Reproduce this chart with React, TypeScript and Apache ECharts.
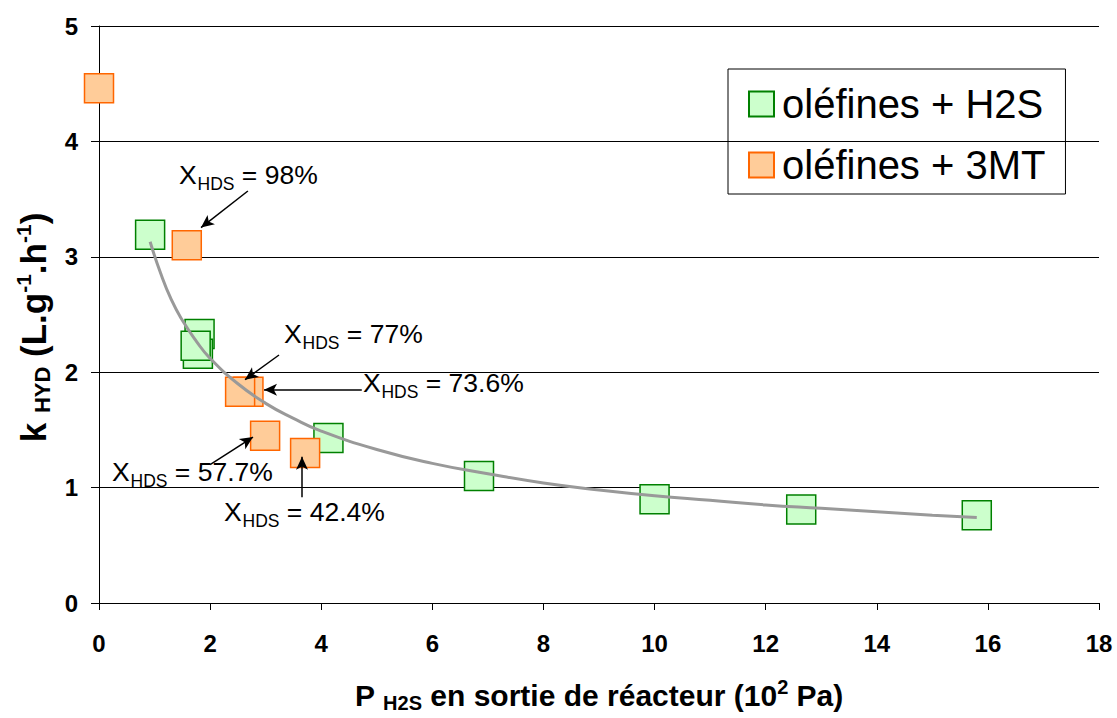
import React, { useEffect, useRef } from "react";
import * as echarts from "echarts";

// ---- data ----
const greenX = [0.92, 1.81, 1.78, 1.74, 4.13, 6.84, 10.0, 12.64, 15.8];
const greenY = [3.19, 2.33, 2.16, 2.23, 1.43, 1.10, 0.90, 0.81, 0.76];

const orangeX = [0.0, 1.58, 2.69, 2.54, 2.99, 3.71];
const orangeY = [4.46, 3.10, 1.83, 1.83, 1.45, 1.30];

const trendX = [0.92, 1.1, 1.3, 1.5, 1.75, 2, 2.5, 3, 3.5, 4, 5, 6, 7, 8, 9, 10, 11, 12, 13, 14, 15, 15.8];
const trendY = [3.13, 2.87, 2.63, 2.45, 2.27, 2.12, 1.9, 1.73, 1.6, 1.49, 1.33, 1.21, 1.12, 1.04, 0.98, 0.93, 0.89, 0.85, 0.82, 0.79, 0.76, 0.74];

const seriesNames = ["oléfines + H2S", "oléfines + 3MT"];

const annotLabels = ["98%", "77%", "73.6%", "57.7%", "42.4%"];
const annotTextX = [1.44, 3.33, 4.75, 0.234, 2.25];
const annotTextY = [3.707, 2.33, 1.91, 1.139, 0.788];
const arrowFromX = [2.68, 3.24, 4.73, 2.0, 3.654];
const arrowFromY = [3.57, 2.149, 1.849, 1.199, 0.916];
const arrowToX = [1.836, 2.628, 2.97, 2.772, 3.654];
const arrowToY = [3.253, 1.935, 1.849, 1.438, 1.267];

const xMin = 0, xMax = 18, xStep = 2;
const yMin = 0, yMax = 5, yStep = 1;

const FONT = "'Liberation Sans', Arial, Helvetica, sans-serif";

export default function App() {
  const ref = useRef<HTMLDivElement>(null);
  useEffect(() => {
    document.documentElement.style.margin = "0";
    document.documentElement.style.overflow = "hidden";
    document.body.style.margin = "0";
    document.body.style.overflow = "hidden";
    const chart = echarts.init(ref.current!, null, { renderer: "svg", width: 1117, height: 718 });
    chart.setOption({
      animation: false,
      backgroundColor: "#ffffff",
      tooltip: { show: false },
      grid: { left: 99, right: 18, top: 26, bottom: 108, containLabel: false },
      legend: {
        data: seriesNames,
        orient: "vertical",
        left: 728,
        top: 69,
        padding: [15, 20, 9, 20],
        itemGap: 21,
        itemWidth: 25,
        itemHeight: 25,
        icon: "rect",
        borderColor: "#000",
        borderWidth: 1,
        selectedMode: false,
        textStyle: { fontSize: 40, lineHeight: 40, color: "#000", fontFamily: FONT, padding: [0, 0, 0, 3] },
      },
      xAxis: {
        type: "value",
        min: xMin,
        max: xMax,
        interval: xStep,
        axisLine: { show: true, onZero: false, lineStyle: { color: "#000", width: 1 } },
        axisTick: { show: true, length: 7, lineStyle: { color: "#000" } },
        splitLine: { show: false },
        axisLabel: { fontSize: 24, fontWeight: "bold", color: "#000", fontFamily: FONT, margin: 28 },
        name: "{m|P }{s|H2S}{m| en sortie de réacteur (10}{p|2}{m| Pa)}",
        nameLocation: "middle",
        nameGap: 74,
        nameTextStyle: {
          fontFamily: FONT,
          color: "#000",
          rich: {
            m: { fontSize: 30, fontWeight: "bold", lineHeight: 36, verticalAlign: "middle", fontFamily: FONT, color: "#000" },
            s: { fontSize: 20, fontWeight: "bold", lineHeight: 19, verticalAlign: "bottom", fontFamily: FONT, color: "#000" },
            p: { fontSize: 20, fontWeight: "bold", lineHeight: 19, verticalAlign: "top", fontFamily: FONT, color: "#000" },
          },
        },
      },
      yAxis: {
        type: "value",
        min: yMin,
        max: yMax,
        interval: yStep,
        axisLine: { show: true, onZero: false, lineStyle: { color: "#000", width: 1 } },
        axisTick: { show: true, length: 8, lineStyle: { color: "#000" } },
        splitLine: { show: true, lineStyle: { color: "#000", width: 1 } },
        axisLabel: { fontSize: 24, fontWeight: "bold", color: "#000", fontFamily: FONT, margin: 21 },
        name: "{m|k }{s|HYD}{m| (L.g}{p|-1}{m|.h}{p|-1}{m|)}{e| }",
        nameLocation: "middle",
        nameRotate: 90,
        nameGap: 46,
        nameTextStyle: {
          fontFamily: FONT,
          color: "#000",
          rich: {
            m: { fontSize: 35, fontWeight: "bold", lineHeight: 40, verticalAlign: "middle", fontFamily: FONT, color: "#000" },
            s: { fontSize: 22, fontWeight: "bold", lineHeight: 30, verticalAlign: "bottom", fontFamily: FONT, color: "#000" },
            p: { fontSize: 21, fontWeight: "bold", lineHeight: 21, verticalAlign: "top", fontFamily: FONT, color: "#000" },
            e: { fontSize: 10, width: 26, lineHeight: 10 },
          },
        },
      },
      series: [
        {
          name: seriesNames[0],
          type: "scatter",
          data: greenX.map((x, i) => [x, greenY[i]]),
          symbol: "rect",
          symbolSize: 29,
          clip: false,
          z: 2,
          itemStyle: { color: "#ccffcc", borderColor: "#008000", borderWidth: 1.5, opacity: 1 },
          emphasis: { disabled: true },
        },
        {
          name: seriesNames[1],
          type: "scatter",
          data: orangeX.map((x, i) => [x, orangeY[i]]),
          symbol: "rect",
          symbolSize: 29,
          clip: false,
          z: 2,
          itemStyle: { color: "#ffcc99", borderColor: "#ff6600", borderWidth: 1.5, opacity: 1 },
          emphasis: { disabled: true },
        },
        {
          name: "trend",
          type: "line",
          data: trendX.map((x, i) => [x, trendY[i]]),
          smooth: true,
          showSymbol: false,
          symbol: "none",
          silent: true,
          z: 3,
          lineStyle: { color: "#999999", width: 3 },
          emphasis: { disabled: true },
          markLine: {
            silent: true,
            symbol: ["none", "arrow"],
            symbolSize: [9, 13],
            label: { show: false },
            emphasis: { disabled: true },
            lineStyle: { color: "#000", width: 1.5, type: "solid" },
            data: arrowFromX.map((x, i) => [
              { coord: [x, arrowFromY[i]] },
              { coord: [arrowToX[i], arrowToY[i]] },
            ]),
          },
        },
      ],
    });

    const graphics = annotLabels.map((lab, i) => {
      const p = chart.convertToPixel({ gridIndex: 0 }, [annotTextX[i], annotTextY[i]]) as number[];
      return {
        type: "group",
        x: p[0],
        y: p[1],
        z: 10,
        children: [
          { type: "text", x: 0, y: 0, style: { text: "X", fontSize: 26.5, fontFamily: FONT, fill: "#000", verticalAlign: "middle" } },
          { type: "text", x: 18.5, y: 9, style: { text: "HDS", fontSize: 17.5, fontFamily: FONT, fill: "#000", verticalAlign: "middle" } },
          { type: "text", x: 55.5, y: 0, style: { text: " = " + lab, fontSize: 26.5, fontFamily: FONT, fill: "#000", verticalAlign: "middle" } },
        ],
      };
    });
    chart.setOption({ graphic: graphics });

    return () => chart.dispose();
  }, []);
  return (
    <div
      ref={ref}
      style={{ position: "absolute", left: 0, top: 0, width: 1117, height: 718, overflow: "hidden" }}
    />
  );
}
